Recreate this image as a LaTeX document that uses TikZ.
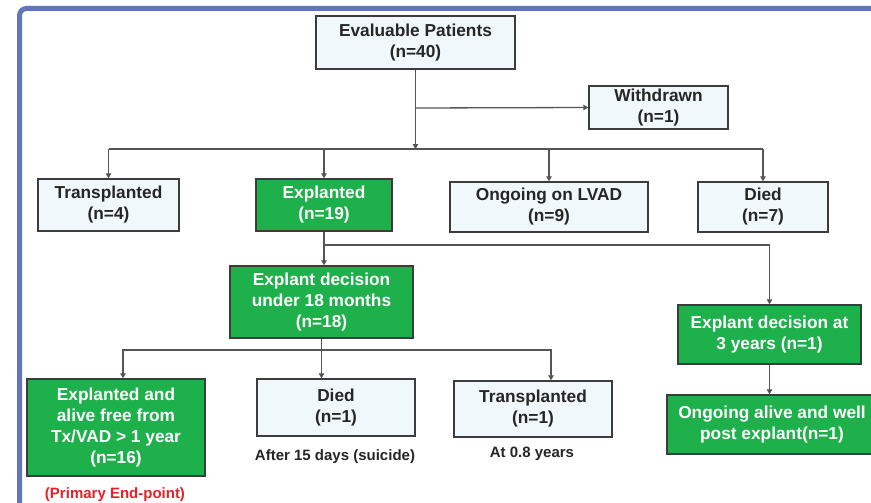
\documentclass[tikz,border=0pt]{standalone}
\usepackage{fontspec}
\setmainfont{Liberation Sans}
\usetikzlibrary{arrows.meta}
\definecolor{boxfill}{HTML}{F0F8FB}
\definecolor{boxgreen}{HTML}{1EB04B}
\definecolor{frameblue}{HTML}{6375BA}
\definecolor{linegray}{HTML}{555555}
\definecolor{boxline}{HTML}{3C3C3C}
\definecolor{txt}{HTML}{262626}
\definecolor{endred}{HTML}{E8202A}
\begin{document}
\begin{tikzpicture}[x=1pt,y=-1pt,
  box/.style={draw=boxline, line width=1.4pt, fill=boxfill, text=txt,
    font=\bfseries\fontsize{17.3}{21}\selectfont, align=center, inner sep=0pt},
  gbox/.style={box, fill=boxgreen, text=white},
  conn/.style={draw=linegray, line width=1.3pt},
  arr/.style={conn, -{Triangle[length=5pt,width=5.5pt]}},
  note/.style={font=\bfseries\fontsize{15}{18}\selectfont, text=txt}]
\useasboundingbox (0,0) rectangle (871,503);
\clip (0,0) rectangle (871,503);
\fill[white] (0,0) rectangle (871,503);
% frame
\draw[frameblue, line width=5pt, rounded corners=7pt] (19.5,520) -- (19.5,8.5) -- (890,8.5);

% nodes
\node[box, minimum width=199, minimum height=53] (eval) at (415.5,42.5) {Evaluable Patients\\(n=40)};
\node[box, minimum width=139, minimum height=43] (withdrawn) at (658.5,107.5) {Withdrawn\\(n=1)};
\node[box, minimum width=141, minimum height=52] (tx) at (108.5,205) {Transplanted\\(n=4)};
\node[gbox, minimum width=136, minimum height=52] (expl) at (324,205) {Explanted\\(n=19)};
\node[box, minimum width=198, minimum height=50] (ongoing) at (549,207) {Ongoing on LVAD\\(n=9)};
\node[box, minimum width=130, minimum height=50] (died) at (763,207) {Died\\(n=7)};
\node[gbox, minimum width=183, minimum height=72] (dec18) at (321.5,302) {Explant decision\\under 18 months\\(n=18)};
\node[gbox, minimum width=178, minimum height=97] (alive) at (116,427.5) {Explanted and\\alive free from\\Tx/VAD > 1 year\\(n=16)};
\node[box, minimum width=158, minimum height=57] (died1) at (336,407.5) {Died\\(n=1)};
\node[box, minimum width=158, minimum height=56] (tx1) at (533,409) {Transplanted\\(n=1)};
\node[gbox, minimum width=183, minimum height=59] (dec3) at (769.5,334.5) {Explant decision at\\3 years (n=1)};
\node[gbox, minimum width=210, minimum height=59] (well) at (772,424.5) {Ongoing alive and well\\post explant(n=1)};

\node[note] (n1) at (335,457) {After 15 days (suicide)};
\node[note] (n2) at (532,454) {At 0.8 years};
\node[note, text=endred] (n3) at (115,495) {(Primary End-point)};

% connectors
\coordinate (j0) at (415.5,108);
\coordinate (j1) at (415.5,149);
\coordinate (hL) at (108.5,149);
\coordinate (hR) at (763,149);
\draw[arr] (eval.south) -- (j1);
\draw[arr] (j0) -- (withdrawn.west);
\draw[conn] (hL) -- (hR);
\draw[arr] (hL) -- (tx.north);
\draw[arr] (expl.north |- hL) -- (expl.north);
\draw[arr] (ongoing.north |- hL) -- (ongoing.north);
\draw[arr] (hR) -- (died.north);

\coordinate (j2) at (324,245);
\draw[arr] (expl.south) -- (expl.south |- dec18.north);
\draw[arr] (j2) -| (dec3.north);

\coordinate (j3) at (321.5,350);
\draw[conn] (dec18.south) -- (j3);
\draw[arr] (j3) -| ([xshift=7pt]alive.north);
\draw[arr] (j3) -- (j3 |- died1.north);
\draw[arr] (j3) -| ([xshift=18pt]tx1.north);
\draw[arr] (dec3.south) -- (dec3.south |- well.north);
\end{tikzpicture}
\end{document}
